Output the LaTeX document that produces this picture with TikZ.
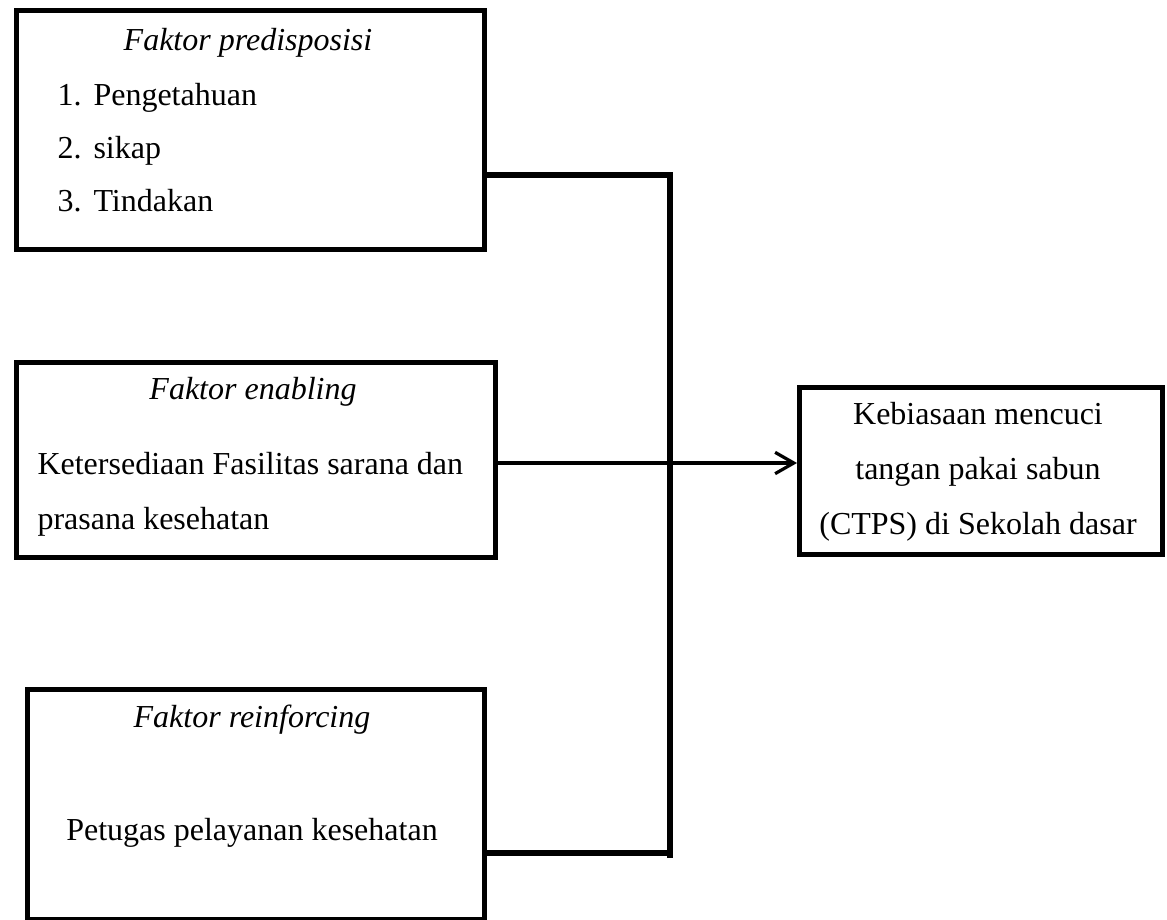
\documentclass[tikz,border=0pt]{standalone}
\usepackage{fontspec}
\setmainfont{Liberation Serif}
\usetikzlibrary{arrows.meta}
\tikzset{
	box/.style={draw,line width=1.9pt,anchor=north west,inner sep=0pt},
	title/.style={font=\fontsize{12}{14}\selectfont\itshape,inner sep=0pt},
	txt/.style={font=\fontsize{12}{20.6}\selectfont,inner sep=0pt},
	conn/.style={line width=1.9pt},
}
\newcommand{\numitem}[2]{\makebox[13.5pt][l]{#1}#2}
\begin{document}
\begin{tikzpicture}[x=0.375pt,y=-0.375pt,>={Straight Barb[length=7pt,width=8pt,line width=1.2pt]}]
	\useasboundingbox (0,0) rectangle (1167,920);
	% boxes
	\node[box,minimum width=175.5pt,minimum height=89.6pt] (pre) at (14,8) {};
	\node[box,minimum width=179.6pt,minimum height=73.1pt] (ena) at (14,360) {};
	\node[box,minimum width=171.4pt,minimum height=86.3pt] (rei) at (25,687) {};
	\node[box,minimum width=136.1pt,minimum height=62.6pt] (ctps) at (797,385) {};
	% texts
	\node[title] (pretitle) at (248,43) {Faktor predisposisi};
	\node[txt,align=left,anchor=west,font=\fontsize{12}{19.9}\selectfont] (prelist) at (57,148)
		{\numitem{1.}{Pengetahuan}\\\numitem{2.}{sikap}\\\numitem{3.}{Tindakan}};
	\node[title] (enatitle) at (253,392) {Faktor enabling};
	\node[txt,align=left,anchor=west] (enatext) at (37,494)
		{Ketersediaan Fasilitas sarana dan\\prasana kesehatan};
	\node[title] (reititle) at (252,720) {Faktor reinforcing};
	\node[txt] (reitext) at (252,833) {Petugas pelayanan kesehatan};
	\node[txt,align=center] (ctpstext) at (978,472)
		{Kebiasaan mencuci\\tangan pakai sabun\\(CTPS) di Sekolah dasar};
	% connectors
	\coordinate (jtop) at (670,175);
	\coordinate (jbot) at (670,858);
	\draw[conn] (pre.east |- jtop) -- (jtop) -- (jbot);
	\draw[conn] (rei.east |- 0,853) -- (670,853);
	\draw[->,line width=1.2pt] (ena.east |- 0,463) -- (ctps.west |- 0,463);
\end{tikzpicture}
\end{document}
